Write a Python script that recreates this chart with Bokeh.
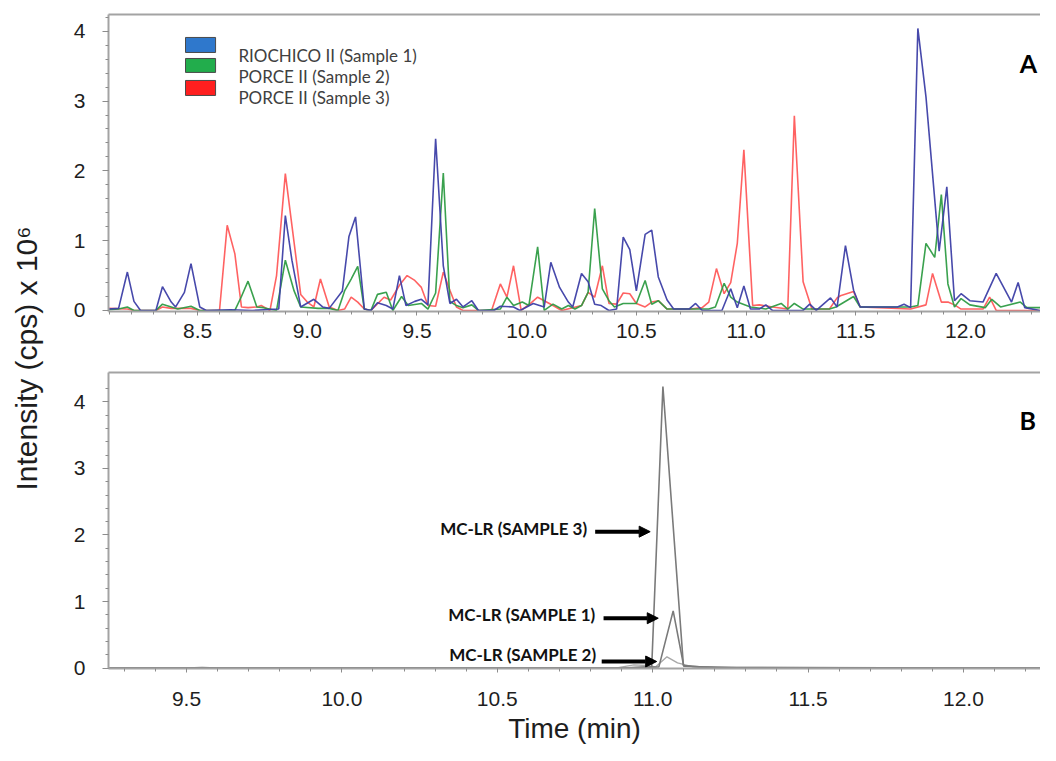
import numpy as np
from bokeh.plotting import figure
from bokeh.layouts import row, column
from bokeh.models import (FixedTicker, LinearAxis, Label, Arrow, NormalHead,
                          NumeralTickFormatter)
from bokeh.core.properties import value
from bokeh.embed import file_html
from bokeh.resources import INLINE

# ---------------- Panel A data (time in min, intensity x 10^6 cps) ----------------
series_names = ["RIOCHICO II (Sample 1)", "PORCE II (Sample 2)", "PORCE II (Sample 3)"]

t_s1 = [8.094, 8.14, 8.18, 8.21, 8.24, 8.31, 8.34, 8.38, 8.40, 8.44, 8.47, 8.51, 8.54, 8.65, 8.75,
        8.87, 8.90, 8.93, 8.97, 9.03, 9.07, 9.10, 9.16, 9.19, 9.22, 9.26, 9.29, 9.32, 9.36, 9.39,
        9.42, 9.45, 9.49, 9.52, 9.55, 9.585, 9.62, 9.65, 9.68, 9.71, 9.75, 9.78, 9.85, 9.88, 9.94,
        9.97, 10.03, 10.08, 10.11, 10.15, 10.19, 10.21, 10.25, 10.28, 10.31, 10.34, 10.375, 10.41,
        10.44, 10.47, 10.50, 10.54, 10.57, 10.60, 10.64, 10.67, 10.74, 10.77, 10.80, 10.89, 10.93,
        10.96, 10.99, 11.02, 11.06, 11.09, 11.12, 11.26, 11.29, 11.32, 11.385, 11.415, 11.453,
        11.49, 11.52, 11.69, 11.72, 11.75, 11.783, 11.82, 11.88, 11.915, 11.95, 11.98, 12.02,
        12.08, 12.14, 12.21, 12.24, 12.27, 12.34, 12.41]
i_s1 = [0.02, 0.03, 0.55, 0.13, 0.0, 0.0, 0.34, 0.12, 0.05, 0.26, 0.67, 0.05, 0.0, 0.01, 0.0,
        0.02, 1.36, 0.72, 0.05, 0.16, 0.05, 0.03, 0.28, 1.06, 1.34, 0.02, 0.0, 0.11, 0.07, 0.02,
        0.50, 0.07, 0.13, 0.16, 0.08, 2.46, 0.64, 0.10, 0.16, 0.05, 0.14, 0.0, 0.0, 0.06, 0.05,
        0.0, 0.10, 0.05, 0.69, 0.33, 0.12, 0.05, 0.53, 0.41, 0.09, 0.07, 0.0, 0.02,
        1.05, 0.87, 0.28, 1.09, 1.15, 0.48, 0.15, 0.02, 0.02, 0.10, 0.0, 0.0, 0.31,
        0.04, 0.35, 0.02, 0.02, 0.08, 0.0, 0.0, 0.09, 0.0, 0.18, 0.05, 0.93,
        0.29, 0.05, 0.05, 0.09, 0.04, 4.04, 3.06, 0.85, 1.77, 0.14, 0.24, 0.14,
        0.12, 0.53, 0.12, 0.40, 0.04, 0.0, 0.03]

t_s2 = [8.094, 8.14, 8.18, 8.21, 8.31, 8.34, 8.38, 8.41, 8.47, 8.51, 8.67, 8.70, 8.73, 8.77, 8.80,
        8.86, 8.90, 8.94, 8.97, 9.05, 9.10, 9.14, 9.17, 9.20, 9.23, 9.26, 9.29, 9.32, 9.36, 9.39,
        9.43, 9.46, 9.52, 9.55, 9.585, 9.62, 9.65, 9.68, 9.71, 9.75, 9.78, 9.88, 9.91, 9.94, 9.98,
        10.01, 10.05, 10.08, 10.12, 10.16, 10.19, 10.22, 10.25, 10.28, 10.31, 10.345, 10.375,
        10.40, 10.44, 10.50, 10.54, 10.57, 10.60, 10.64, 10.83, 10.86, 10.90, 10.93, 10.96, 11.02,
        11.09, 11.16, 11.19, 11.22, 11.26, 11.38, 11.41, 11.49, 11.52, 11.75, 11.783, 11.82, 11.86,
        11.89, 11.92, 11.95, 11.98, 12.02, 12.09, 12.12, 12.16, 12.25, 12.28, 12.34, 12.37, 12.41]
i_s2 = [0.01, 0.02, 0.05, 0.0, 0.0, 0.09, 0.05, 0.02, 0.06, 0.0, 0.0, 0.20, 0.42, 0.05, 0.04,
        0.0, 0.72, 0.28, 0.05, 0.03, 0.03, 0.0, 0.28, 0.45, 0.63, 0.02, 0.0, 0.23, 0.26, 0.0,
        0.20, 0.07, 0.10, 0.02, 0.25, 1.97, 0.13, 0.07, 0.04, 0.08, 0.0, 0.02, 0.19, 0.07, 0.12,
        0.07, 0.91, 0.0, 0.09, 0.02, 0.07, 0.02, 0.07, 0.26, 1.46, 0.31, 0.14,
        0.05, 0.10, 0.10, 0.43, 0.09, 0.14, 0.02, 0.02, 0.05, 0.39, 0.19, 0.12, 0.05,
        0.02, 0.10, 0.02, 0.10, 0.02, 0.02, 0.05, 0.20, 0.05, 0.05, 0.07, 0.96, 0.76,
        1.66, 0.38, 0.05, 0.17, 0.08, 0.04, 0.16, 0.05, 0.12, 0.04, 0.04, 0.16, 0.05]

t_s3 = [8.094, 8.18, 8.21, 8.31, 8.34, 8.38, 8.47, 8.51, 8.60, 8.635, 8.67, 8.70, 8.73, 8.77, 8.79,
        8.83, 8.86, 8.90, 8.97, 9.00, 9.03, 9.06, 9.10, 9.14, 9.17, 9.20, 9.23, 9.26, 9.29, 9.35,
        9.38, 9.42, 9.455, 9.49, 9.52, 9.55, 9.585, 9.62, 9.65, 9.68, 9.71, 9.84, 9.88, 9.91, 9.94,
        9.975, 10.02, 10.05, 10.08, 10.12, 10.16, 10.21, 10.25, 10.28, 10.31, 10.345, 10.375, 10.41,
        10.44, 10.47, 10.50, 10.54, 10.57, 10.60, 10.64, 10.75, 10.80, 10.83, 10.865, 10.90, 10.93,
        10.96, 10.99, 11.03, 11.06, 11.12, 11.19, 11.22, 11.26, 11.30, 11.38, 11.415, 11.43, 11.49,
        11.52, 11.75, 11.82, 11.85, 11.89, 11.92, 11.95, 11.98, 12.08, 12.11, 12.14, 12.41]
i_s3 = [0.03, 0.02, 0.0, 0.0, 0.05, 0.03, 0.03, 0.0, 0.0, 1.22, 0.81, 0.05, 0.04, 0.05, 0.07,
        0.0, 0.50, 1.96, 0.23, 0.12, 0.05, 0.45, 0.05, 0.0, 0.02, 0.19, 0.12, 0.02, 0.0, 0.19,
        0.15, 0.36, 0.50, 0.43, 0.33, 0.07, 0.06, 0.55, 0.29, 0.05, 0.0, 0.0, 0.38, 0.19, 0.64,
        0.0, 0.11, 0.19, 0.14, 0.07, 0.0, 0.04, 0.07, 0.26, 0.19, 0.64, 0.10, 0.09,
        0.25, 0.24, 0.10, 0.05, 0.12, 0.14, 0.02, 0.02, 0.04, 0.12, 0.60, 0.24, 0.40,
        0.96, 2.30, 0.07, 0.08, 0.05, 0.02, 2.79, 0.41, 0.02, 0.02, 0.18, 0.21, 0.27,
        0.05, 0.02, 0.08, 0.53, 0.12, 0.12, 0.08, 0.02, 0.02, 0.19, 0.0, 0.0]

# ---------------- Panel B data (MC-LR extracted ion chromatograms) ----------------
tb_s3 = [9.249, 9.50, 9.55, 9.60, 10.90, 10.997, 11.033, 11.099, 11.15, 11.30, 12.273]
ib_s3 = [0.0, 0.0, 0.01, 0.0, 0.0, 0.02, 4.23, 0.04, 0.02, 0.0, 0.0]
tb_s1 = [9.249, 10.90, 11.02, 11.066, 11.10, 11.20, 12.273]
ib_s1 = [0.0, 0.0, 0.02, 0.86, 0.03, 0.01, 0.0]
tb_s2 = [9.249, 10.88, 10.94, 10.98, 11.01, 11.046, 11.08, 11.13, 11.25, 12.273]
ib_s2 = [0.0, 0.0, 0.05, 0.04, 0.02, 0.17, 0.08, 0.02, 0.01, 0.0]

# ---------------- ticks ----------------
a_xticks = [8.5, 9.0, 9.5, 10.0, 10.5, 11.0, 11.5, 12.0]
b_xticks = [9.5, 10.0, 10.5, 11.0, 11.5, 12.0]
y_ticks = [0, 1, 2, 3, 4]

# ---------------- annotations ----------------
legend_colors = ["#2f78cc", "#22ad4c", "#ff1f1f"]
line_colors = ["#3d3fa6", "#2f9c45", "#ff5a5a"]
ann_texts = ["MC-LR (SAMPLE 3)", "MC-LR (SAMPLE 1)", "MC-LR (SAMPLE 2)"]
ann_text_x = [10.789, 10.815, 10.818]
ann_text_y = [2.10, 0.80, 0.20]
arrow_x0 = [10.815, 10.842, 10.836]
arrow_x1 = [10.992, 11.018, 11.013]
arrow_y = [2.05, 0.75, 0.10]

AXIS_COLOR = "#a3a3a3"
TICK_FONT = "Liberation Sans"


def style(p, xticks, xminor, yminor, xstandoff):
    p.xgrid.visible = False
    p.ygrid.visible = False
    p.outline_line_color = None
    p.background_fill_color = "white"
    p.border_fill_color = "white"
    xa = p.below[0]
    ya = p.left[0]
    xa.ticker = FixedTicker(ticks=xticks, minor_ticks=xminor)
    xa.formatter = NumeralTickFormatter(format="0.0")
    ya.ticker = FixedTicker(ticks=y_ticks, minor_ticks=yminor)
    for ax in (xa, ya):
        ax.axis_line_color = AXIS_COLOR
        ax.axis_line_width = 2
        ax.major_tick_line_color = "#8c8c8c"
        ax.minor_tick_line_color = "#8c8c8c"
        ax.major_tick_in = 0
        ax.minor_tick_in = 0
        ax.major_label_text_font = TICK_FONT
        ax.major_label_text_font_size = "21px"
        ax.major_label_text_color = "#1e1e1e"
    xa.major_tick_out = 4
    xa.minor_tick_out = 3
    xa.major_label_standoff = xstandoff
    ya.major_tick_out = 6
    ya.minor_tick_out = 3
    ya.major_label_standoff = 17
    top = LinearAxis(ticker=FixedTicker(ticks=[]), axis_line_color=AXIS_COLOR,
                     axis_line_width=2, major_tick_out=0, minor_tick_out=0,
                     major_tick_in=0, minor_tick_in=0)
    p.add_layout(top, "above")
    return xa


# ---------------- Panel A ----------------
pA = figure(frame_width=932, frame_height=297, x_range=(8.094, 12.342), y_range=(-0.015, 4.24),
            output_backend="svg", toolbar_location=None,
            min_border_left=58, min_border_right=0, min_border_top=14, min_border_bottom=49)
a_minor = [round(v, 1) for v in np.arange(8.1, 12.35, 0.1)]
y_minor = [round(v, 1) for v in np.arange(0, 4.21, 0.2)]
style(pA, a_xticks, a_minor, y_minor, 8)

for tt, ii, c in [(t_s3, i_s3, line_colors[2]), (t_s2, i_s2, line_colors[1]),
                  (t_s1, i_s1, line_colors[0])]:
    pA.line(tt, ii, line_color=c, line_width=1.6, line_alpha=0.95)

# legend swatches and labels (data coordinates of panel A)
sw_left = [8.445, 8.445, 8.445]
sw_right = [8.582, 8.582, 8.582]
sw_top = [3.911, 3.610, 3.295]
sw_bottom = [3.696, 3.410, 3.080]
pA.quad(left=sw_left, right=sw_right, top=sw_top, bottom=sw_bottom,
        fill_color=legend_colors, line_color="#4a4a4a", line_width=1)
pA.text(x=[8.686] * 3, y=[3.653, 3.352, 3.052], text=series_names,
        text_font=value("Lato"), text_font_size="17px", text_color="#404040",
        text_align="left", text_baseline="middle")
pA.add_layout(Label(x=12.287, y=3.54, text="A", text_font="Lato", text_font_style="bold",
                    text_font_size="25px", text_color="black", text_align="center",
                    text_baseline="middle"))

# ---------------- Panel B ----------------
pB = figure(frame_width=932, frame_height=296, x_range=(9.249, 12.248), y_range=(-0.005, 4.44),
            output_backend="svg", toolbar_location=None,
            min_border_left=58, min_border_right=0, min_border_top=12, min_border_bottom=77)
b_minor = [round(v, 1) for v in np.arange(9.3, 12.25, 0.1)]
xb = style(pB, b_xticks, b_minor, y_minor, 19)
xb.axis_label = "Time (min)"
xb.axis_label_text_font = TICK_FONT
xb.axis_label_text_font_size = "28px"
xb.axis_label_text_font_style = "normal"
xb.axis_label_text_color = "#1e1e1e"
xb.axis_label_standoff = 4

pB.line(tb_s2, ib_s2, line_color="#a8a8a8", line_width=1.4)
pB.line(tb_s1, ib_s1, line_color="#7a7a7a", line_width=1.6)
pB.line(tb_s3, ib_s3, line_color="#7a7a7a", line_width=1.6)

pB.text(x=ann_text_x, y=ann_text_y, text=ann_texts, text_font=value("Lato"),
        text_font_style="bold", text_font_size="17px", text_color="#111111",
        text_align="right", text_baseline="middle")
for x0, x1, yy in zip(arrow_x0, arrow_x1, arrow_y):
    pB.add_layout(Arrow(x_start=x0, y_start=yy, x_end=x1, y_end=yy, line_width=4,
                        line_color="black",
                        end=NormalHead(size=11, fill_color="black", line_color="black",
                                       line_width=1)))
pB.add_layout(Label(x=12.207, y=3.73, text="B", text_font="Lato", text_font_style="bold",
                    text_font_size="25px", text_color="black", text_align="center",
                    text_baseline="middle"))

# ---------------- shared y-axis label ----------------
lab = figure(width=50, height=745, x_range=(0, 50), y_range=(0, 745),
             output_backend="svg", toolbar_location=None, min_border=0,
             x_axis_location=None, y_axis_location=None)
lab.xgrid.visible = False
lab.ygrid.visible = False
lab.outline_line_color = None
lab.add_layout(Label(x=26, y=255, text="Intensity (cps) x 10\u2076", angle=np.pi / 2,
                     text_font=TICK_FONT, text_font_size="30px", text_color="#1e1e1e",
                     text_align="left", text_baseline="middle"))

layout = row(lab, column(pA, pB))
open("out.html", "w").write(file_html(layout, INLINE))
